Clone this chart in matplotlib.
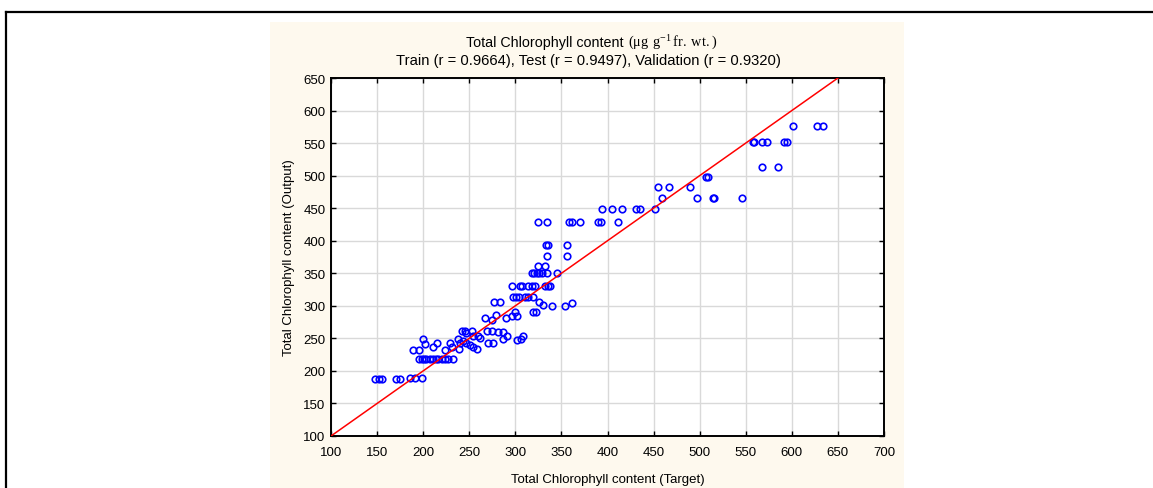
import matplotlib
matplotlib.use("Agg")
import matplotlib.pyplot as plt
from matplotlib.patches import Rectangle
from matplotlib.lines import Line2D

plt.rcParams['font.family'] = ['Liberation Sans', 'DejaVu Sans']
plt.rcParams['mathtext.fontset'] = 'custom'
plt.rcParams['mathtext.rm'] = 'Liberation Serif'

# --- data (target, output) ---
target = [
    147.5, 152.4, 155.7, 170.3, 174.7, 185.5, 190.9, 198.2,
    189.1, 195.3,
    195.3, 198.2, 200.7, 203.6, 207.2, 210.8, 213.7, 216.2, 219.9, 223.5, 227.1, 231.9,
    200.0, 201.5, 210.2, 215.2, 223.5, 228.9, 230.8,
    238.0, 239.0, 239.8, 241.6, 245.2, 247.0, 252.5,
    243.4, 247.0, 250.6, 254.2, 257.9, 259.6, 261.5, 254.2,
    268.8, 274.2, 281.4, 286.1, 270.5, 275.3, 286.8, 291.1,
    266.9, 274.2, 278.9, 276.7, 283.2, 289.7, 295.9, 299.5, 302.0,
    295.9, 304.9, 306.7, 313.9, 317.6, 321.2, 332.0, 335.6, 337.5,
    297.6, 300.6, 304.1, 310.3, 313.9, 318.7,
    301.3, 306.0, 307.8,
    317.6, 320.4, 323.0, 325.8, 328.5, 333.9, 344.7,
    324.8, 332.0,
    319.3, 322.3, 325.8, 329.5, 340.0, 353.7, 361.0,
    333.0, 335.6, 355.6, 333.9, 355.6,
    324.8, 333.9, 358.4, 361.0, 370.0, 389.9, 392.8, 411.6,
    393.6, 404.4, 415.3, 430.8, 435.1, 451.4,
    454.4, 467.0, 458.7, 489.4, 497.3, 506.8, 509.3, 514.0, 515.8, 546.2,
    557.4, 558.9, 567.2, 573.3, 567.9, 585.2, 591.8, 595.0,
    600.9, 626.9, 633.4,
]
output = [
    187.4, 187.4, 187.4, 187.4, 187.4, 189.0, 189.0, 189.0,
    232.0, 232.0,
    218.0, 218.0, 218.0, 218.0, 218.0, 218.0, 218.0, 218.0, 218.0, 218.0, 218.0, 218.0,
    248.5, 241.8, 237.1, 242.3, 232.5, 242.3, 237.1,
    248.5, 234.2, 243.4, 261.3, 261.3, 257.7, 261.3,
    245.9, 242.3, 239.2, 237.1, 234.0, 253.0, 249.9, 254.0,
    261.3, 261.3, 259.8, 259.8, 243.4, 242.3, 248.5, 253.0,
    280.8, 278.6, 285.8, 306.3, 306.3, 280.8, 284.8, 290.0, 284.8,
    331.0, 331.0, 331.0, 331.0, 331.0, 331.0, 331.0, 331.0, 331.0,
    313.0, 313.0, 313.0, 313.0, 313.0, 313.0,
    247.8, 248.8, 253.0,
    350.5, 350.5, 350.5, 350.5, 350.5, 350.5, 350.5,
    361.0, 361.0,
    291.0, 291.0, 306.3, 301.0, 300.0, 300.0, 304.0,
    392.7, 392.7, 392.7, 376.0, 376.0,
    429.4, 429.4, 429.4, 429.4, 429.4, 429.4, 429.4, 429.4,
    449.0, 449.0, 449.0, 449.0, 449.0, 449.0,
    483.2, 483.2, 466.3, 483.0, 466.0, 498.2, 498.2, 466.0, 466.0, 466.0,
    552.0, 552.0, 552.0, 552.0, 513.0, 513.0, 552.0, 552.0,
    577.0, 577.0, 577.0,
]

xticks = list(range(100, 701, 50))
yticks = list(range(100, 651, 50))

W, H = 1153, 489
fig = plt.figure(figsize=(W / 100, H / 100), dpi=100)
fig.patch.set_facecolor('white')

# cream panel behind the chart
fig.patches.append(Rectangle((270 / W, 0), (904 - 270) / W, (489 - 23) / H,
                             transform=fig.transFigure, facecolor='#fef9ee',
                             edgecolor='none', zorder=-5))
# outer page frame (top and left edges visible)
fig.lines.append(Line2D([6 / W, 1], [1 - 12.5 / H, 1 - 12.5 / H], transform=fig.transFigure,
                        color='black', lw=1.6, zorder=-4))
fig.lines.append(Line2D([6 / W, 6 / W], [0, 1 - 12.5 / H], transform=fig.transFigure,
                        color='black', lw=1.6, zorder=-4))

ax = fig.add_axes([331 / W, (489 - 437) / H, (884 - 331) / W, (437 - 79) / H])
ax.set_facecolor('white')

ax.plot(target, output, linestyle='none', marker='o', markersize=4.7,
        markerfacecolor='none', markeredgecolor='#0000ff', markeredgewidth=1.2,
        zorder=3)
ax.plot([100, 700], [100, 700], color='#ff0000', lw=1.1, zorder=4)

ax.set_xlim(100, 700)
ax.set_ylim(100, 650)
ax.set_xticks(xticks)
ax.set_yticks(yticks)
ax.grid(True, color='#d9d9d9', lw=1.0)
ax.set_axisbelow(True)
for s in ax.spines.values():
    s.set_linewidth(1.4)
    s.set_color('black')
ax.tick_params(direction='in', length=3.5, width=1.0, top=True, right=True,
               labelsize=9.5, pad=4)
ax.tick_params(axis='x', pad=7)

ax.set_xlabel('Total Chlorophyll content (Target)', fontsize=9.5, labelpad=11)
ax.set_ylabel('Total Chlorophyll content (Output)', fontsize=9.5, labelpad=6)

# two-line title, first line mixes sans and serif
fig.text(627 / W, 1 - 43 / H, 'Total Chlorophyll content ', ha='right', va='center',
         fontsize=10.3)
fig.text(628 / W, 1 - 43 / H, r'$\mathrm{(\mu g\ g^{-1}\,fr.\,wt.)}$', ha='left',
         va='center', fontsize=10.3)
fig.text(588 / W, 1 - 61 / H,
         'Train (r = 0.9664), Test (r = 0.9497), Validation (r = 0.9320)',
         ha='center', va='center', fontsize=10.6)

fig.savefig('out.png', dpi=100)
